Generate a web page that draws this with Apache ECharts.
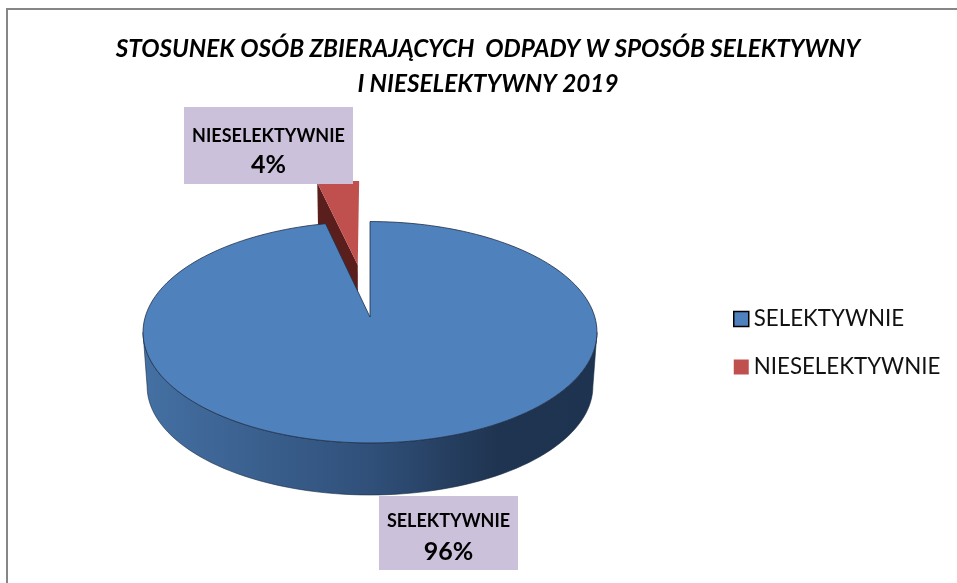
<!DOCTYPE html>
<html>
<head>
<meta charset="utf-8">
<style>
  html, body { margin: 0; padding: 0; background: #fff; }
  #chart { width: 957px; height: 583px; }
</style>
<script src="https://cdn.jsdelivr.net/npm/echarts@6/dist/echarts.min.js"></script>
</head>
<body>
<div id="chart"></div>
<script>
const titleText = "STOSUNEK OSÓB ZBIERAJĄCYCH  ODPADY W SPOSÓB SELEKTYWNY\nI NIESELEKTYWNY 2019"
const categories = ["SELEKTYWNIE", "NIESELEKTYWNIE"]
// labels in the picture are rounded, the slice itself reads a bit under 4%
const shares = [96.4, 3.6]

const FONT = "Lato, 'Open Sans', sans-serif"
const BLUE = "#4F81BD"
const RED = "#C0504D"
const LABEL_BG = "#CCC1DA"

// perspective of the tilted disc, fitted to the picture
const PIE = { cx: 370, cy: 317, a: 224.8, b: 108.6, k: 0.1377, depth: 54.3, shrink: 0.982, explode: 0.517 }

function project(u, v, low) {
  const w = 1 + PIE.k * v
  const s = low ? PIE.shrink : 1
  return [
    PIE.cx + s * PIE.a * u / w,
    PIE.cy + (low ? PIE.depth : 0) - s * PIE.b * v / w
  ]
}

function arc(fromDeg, toDeg, ou, ov, low) {
  const pts = []
  const n = Math.max(2, Math.ceil(Math.abs(toDeg - fromDeg) / 2))
  for (let i = 0; i <= n; i++) {
    const t = (fromDeg + (toDeg - fromDeg) * i / n) * Math.PI / 180
    pts.push(project(ou + Math.sin(t), ov + Math.cos(t), low))
  }
  return pts
}

function labelBox(name, share, x, y, w, h, nameSize, pctSize, nameY, pctY) {
  return [
    { type: "rect", shape: { x: x, y: y, width: w, height: h }, style: { fill: LABEL_BG } },
    { type: "text", style: { x: x + w / 2, y: y + nameY, text: name, align: "center", verticalAlign: "middle",
        fill: "#000", font: "bold " + nameSize + "px " + FONT } },
    { type: "text", style: { x: x + w / 2, y: y + pctY, text: Math.round(share) + "%", align: "center", verticalAlign: "middle",
        fill: "#000", font: "bold " + pctSize + "px " + FONT } }
  ]
}

function renderBlue(params, api) {
  const sweep = api.value(0) / 100 * 360
  const top = [project(0, 0, false)].concat(arc(0, sweep, 0, 0, false))
  const wall = arc(98, 262, 0, 0, false).concat(arc(262, 98, 0, 0, true))
  const wallColor = new echarts.graphic.LinearGradient(0, 0, 1, 0, [
    { offset: 0, color: "#4470A3" },
    { offset: 0.5, color: "#30507A" },
    { offset: 0.78, color: "#1F3450" },
    { offset: 1, color: "#1E3350" }
  ])
  return {
    type: "group",
    children: [
      { type: "polygon", shape: { points: wall }, style: { fill: wallColor, stroke: "#1a2c45", lineWidth: 0.6 } },
      { type: "polygon", shape: { points: top }, style: { fill: BLUE, stroke: "#1f2f48", lineWidth: 0.8 } }
    ].concat(labelBox(categories[0], api.value(0), 379, 496, 139, 74, 18, 25, 25, 56))
  }
}

function renderRed(params, api) {
  const sweep = api.value(0) / 100 * 360
  const mid = -sweep / 2 * Math.PI / 180
  const ou = Math.sin(mid) * PIE.explode
  const ov = Math.cos(mid) * PIE.explode
  const rim = arc(-sweep, 0, ou, ov, false)
  const top = [project(ou, ov, false)].concat(rim)
  const tip = -sweep * Math.PI / 180
  const side = [
    project(ou, ov, false),
    project(ou + Math.sin(tip), ov + Math.cos(tip), false),
    project(ou + Math.sin(tip), ov + Math.cos(tip), true),
    project(ou, ov, true)
  ]
  return {
    type: "group",
    children: [
      { type: "polygon", shape: { points: side }, style: { fill: "#5A1F1D" } },
      { type: "polygon", shape: { points: top }, style: { fill: RED } }
    ].concat(labelBox(categories[1], api.value(0), 184, 107, 169, 77, 18, 25, 29, 58))
  }
}

const chart = echarts.init(document.getElementById("chart"))

chart.setOption({
  animation: false,
  backgroundColor: "#fff",
  title: {
    text: titleText,
    left: 488,
    top: 32,
    padding: 0,
    textAlign: "center",
    textStyle: { fontFamily: FONT, fontStyle: "italic", fontWeight: "bold", fontSize: 24.3, lineHeight: 34.5, color: "#000" }
  },
  legend: {
    orient: "vertical",
    left: 733,
    top: 308,
    padding: 0,
    itemWidth: 15,
    itemHeight: 15,
    itemGap: 26,
    textStyle: { fontFamily: FONT, fontSize: 22.3, color: "#111" },
    data: [
      { name: categories[0], icon: "rect", itemStyle: { color: BLUE, borderColor: "#000", borderWidth: 1.5 } },
      { name: categories[1], icon: "rect", itemStyle: { color: RED, borderWidth: 0 } }
    ]
  },
  graphic: [
    { type: "rect", silent: true, shape: { x: 7, y: 9, width: 1000, height: 1000 },
      style: { fill: "none", stroke: "#868686", lineWidth: 2 } }
  ],
  series: [
    { type: "custom", name: categories[1], coordinateSystem: "none", itemStyle: { color: RED },
      renderItem: renderRed, data: [[shares[1]]] },
    { type: "custom", name: categories[0], coordinateSystem: "none", itemStyle: { color: BLUE },
      renderItem: renderBlue, data: [[shares[0]]] }
  ]
})
</script>
</body>
</html>
